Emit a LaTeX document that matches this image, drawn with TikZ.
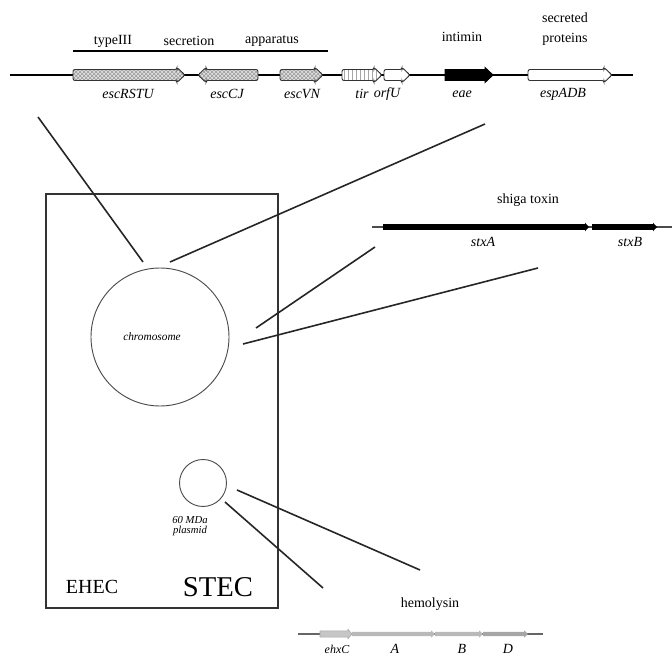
\documentclass[tikz,border=0pt]{standalone}
\usepackage{fontspec}
\setmainfont{Liberation Serif}
\usetikzlibrary{patterns}
\newcommand\gR[4][]{\path[#1] (#2,#4-5.5) -- (#3-8,#4-5.5) -- (#3-8,#4-7.5) -- (#3,#4) -- (#3-8,#4+7.5) -- (#3-8,#4+5.5) -- (#2,#4+5.5) -- cycle;}
\newcommand\gL[4][]{\path[#1] (#3,#4-5.5) -- (#2+8,#4-5.5) -- (#2+8,#4-7.5) -- (#2,#4) -- (#2+8,#4+7.5) -- (#2+8,#4+5.5) -- (#3,#4+5.5) -- cycle;}
\newcommand\bR[5][]{\path[#1] (#2,#4-#5) -- (#3-4,#4-#5) -- (#3-4,#4-#5-1.5) -- (#3,#4) -- (#3-4,#4+#5+1.5) -- (#3-4,#4+#5) -- (#2,#4+#5) -- cycle;}
\tikzset{
  lbl/.style={inner sep=0pt, font=\fontsize{10.5}{12}\selectfont},
  gname/.style={inner sep=0pt, font=\fontsize{10.5}{12}\selectfont\itshape},
  conn/.style={line width=1.2pt, draw=black!85},
  hatch/.style={draw=black!80, line width=0.7pt, preaction={fill=gray!25}, pattern=crosshatch, pattern color=gray!80},
}
\begin{document}
\begin{tikzpicture}[x=0.75pt,y=-0.75pt]
\useasboundingbox (0,0) rectangle (672,656);
% ---------- top gene map (LEE) ----------
\draw[line width=1pt] (10,75) -- (633,75);
\draw[line width=1.2pt] (73,51) -- (328,51);
\node[lbl] (t1) at (113,41) {typeIII};
\node[lbl] (t2) at (189,41) {secretion};
\node[lbl] (t3) at (272,41) {apparatus};
\gR[hatch, rounded corners=1.5pt]{73}{185}{75}
\gL[hatch, rounded corners=1.5pt]{198}{258}{75}
\gR[hatch, rounded corners=1.5pt]{280}{323}{75}
\gR[draw=black!80, line width=0.7pt, rounded corners=1.5pt, preaction={fill=white}, pattern=vertical lines, pattern color=gray!70]{342}{382}{75}
\gR[draw=black!80, line width=0.7pt, rounded corners=1.5pt, fill=white]{384}{410}{75}
\gR[draw=black, line width=0.7pt, fill=black]{445}{493}{75}
\gR[draw=black!80, line width=0.7pt, rounded corners=1.5pt, fill=white]{528}{612}{75}
\node[gname] (g1) at (128,94) {escRSTU};
\node[gname] (g2) at (227,94) {escCJ};
\node[gname] (g3) at (302,94) {escVN};
\node[gname] (g4) at (362,94) {tir};
\node[gname] (g5) at (387,94) {orfU};
\node[gname] (g6) at (462,94) {eae};
\node[gname] (g7) at (563,94) {espADB};
\node[lbl] (int) at (462,37) {intimin};
\node[lbl] (sec) at (565,18) {secreted};
\node[lbl] (pro) at (565,39) {proteins};
% ---------- cell ----------
\node[draw, line width=1.2pt, draw=black!80, minimum width=232*0.75pt, minimum height=414*0.75pt, inner sep=0pt] (cell) at (162,401) {};
\node[draw=black!70, line width=0.7pt, circle, minimum size=138*0.75pt, inner sep=0pt] (chr) at (160,337) {};
\node[inner sep=0pt, font=\fontsize{8.5}{9}\selectfont\itshape] (chrl) at (152,337) {chromosome};
\node[draw=black!70, line width=0.7pt, circle, minimum size=47*0.75pt, inner sep=0pt] (pl) at (203,483) {};
\node[inner sep=0pt, font=\fontsize{8}{9}\selectfont\itshape, align=center] (pll) at (190,526) {60 MDa\\[-1pt]plasmid};
\node[inner sep=0pt, font=\fontsize{15}{16}\selectfont] (ehec) at (92,587) {EHEC};
\node[inner sep=0pt, font=\fontsize{21.5}{24}\selectfont] (stec) at (218,587) {STEC};
% ---------- shiga toxin ----------
\draw[line width=0.8pt, black!70] (372,227) -- (672,227);
\bR[fill=black]{383}{589}{227}{2.8}
\bR[fill=black]{592}{657}{227}{2.8}
\node[lbl] (shl) at (528,200) {shiga toxin};
\node[gname] (sa) at (483,242) {stxA};
\node[gname] (sb) at (630,242) {stxB};
% ---------- hemolysin ----------
\draw[line width=0.8pt, black!60] (298,634) -- (543,634);
\bR[fill=gray!45, draw=gray!70, line width=0.4pt]{320}{352}{634}{3.2}
\bR[fill=gray!55]{352}{435}{634}{2.2}
\bR[fill=gray!55]{435}{483}{634}{2.2}
\bR[fill=gray!70]{483}{528}{634}{2.2}
\node[lbl] (hl) at (430,604) {hemolysin};
\node[gname, font=\fontsize{9}{10}\selectfont\itshape] (hc) at (337,649) {ehxC};
\node[gname] (ha) at (395,649) {A};
\node[gname] (hb) at (462,649) {B};
\node[gname] (hd) at (508,649) {D};
% ---------- connectors ----------
\coordinate (a1) at (38,117);   \coordinate (a2) at (143,262);
\coordinate (b1) at (170,262);  \coordinate (b2) at (485,124);
\coordinate (c1) at (256,328);  \coordinate (c2) at (375,247);
\coordinate (d1) at (243,344);  \coordinate (d2) at (538,268);
\coordinate (e1) at (237,490);  \coordinate (e2) at (420,570);
\coordinate (f1) at (225,502);  \coordinate (f2) at (323,588);
\draw[conn] (a1) -- (a2);
\draw[conn] (b1) -- (b2);
\draw[conn] (c1) -- (c2);
\draw[conn] (d1) -- (d2);
\draw[conn] (e1) -- (e2);
\draw[conn] (f1) -- (f2);
\end{tikzpicture}
\end{document}
